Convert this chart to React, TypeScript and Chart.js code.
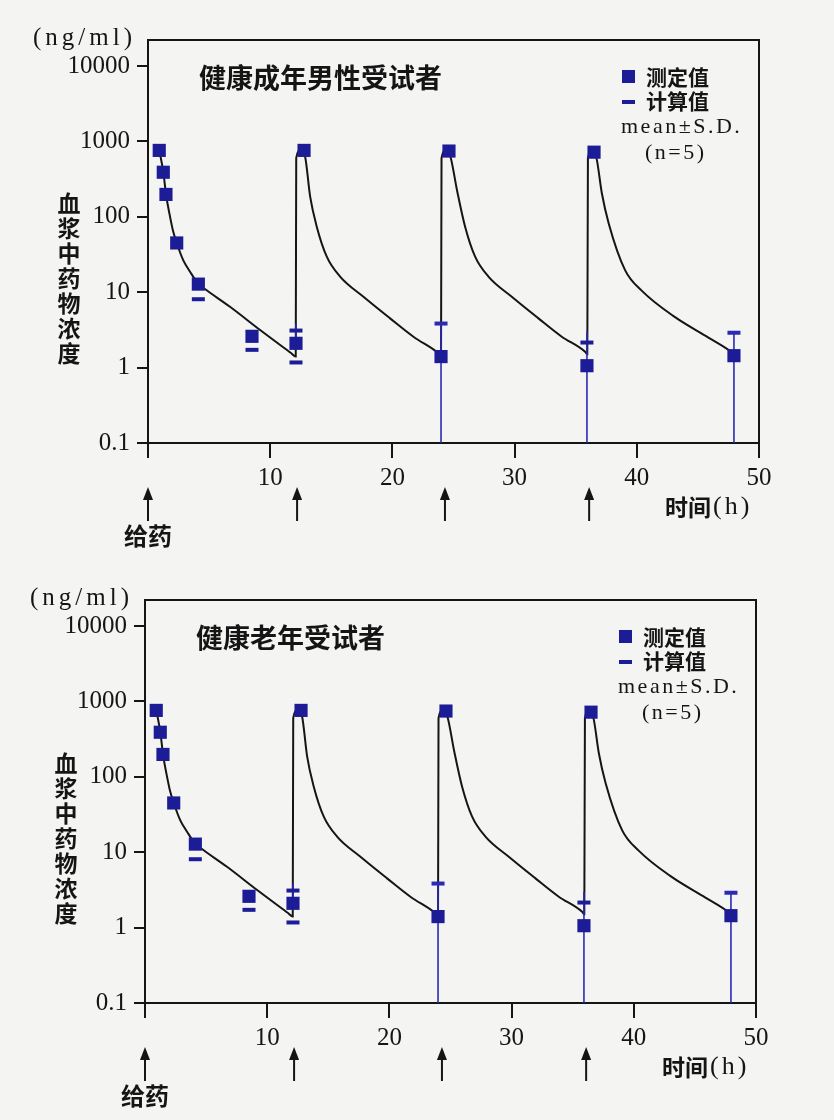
import { useEffect, useRef } from 'react';
import { Chart, registerables } from 'chart.js';

Chart.register(...registerables);

// ---------- data ----------
const panelTitles = ['健康成年男性受试者', '健康老年受试者'];
const yAxisTitle = '血浆中药物浓度';
const yUnit = '(ng/ml)';
const xAxisTitleCjk = '时间';
const xAxisTitleUnit = '(h)';
const doseLabel = '给药';
const legendMeasured = '测定值';
const legendCalc = '计算值';
const legendStat = 'mean±S.D.';
const legendN = '(n=5)';

const yTickValues = [0.1, 1, 10, 100, 1000, 10000];
const yTickLabels = ['0.1', '1', '10', '100', '1000', '10000'];
const xTickValues = [0, 10, 20, 30, 40, 50];
const xTickLabels = ['', '10', '20', '30', '40', '50'];
const doseTimes = [0, 12.2, 24.3, 36.1];

// measured values (squares)
const measuredTime = [0.92, 1.25, 1.47, 2.35, 4.12, 8.51, 12.11, 12.77, 23.98, 24.63, 35.92, 36.5, 47.95];
const measuredConc = [760, 390, 198, 45, 12.8, 2.6, 2.1, 760, 1.4, 745, 1.06, 720, 1.44];

// S.D. bars
const sdTime = [12.11, 23.98, 35.92, 47.95];
const sdLow = [1.9, 0.1, 0.1, 0.1];
const sdHigh = [3.84, 3.84, 3.0, 2.9];
const sdCap = [false, true, false, true];

// calculated values (dashes)
const calcMarkTime = [4.12, 8.51, 12.11, 12.11, 35.92];
const calcMarkConc = [8.07, 1.72, 3.1, 1.17, 2.15];

// fitted curve
const curveTime = [
  0.93, 1.26, 1.48, 1.75, 2.03, 2.36, 2.9, 3.44, 4.12, 4.6, 6.71, 9.23, 11.7, 12.09,
  12.13, 12.5, 12.86, 13.27, 13.81, 14.63, 15.72, 17.63, 19.81, 21.72, 23.63, 23.98,
  24.02, 24.4, 24.75, 25.3, 25.95, 26.77, 27.86, 29.77, 31.95, 33.86, 35.77, 35.95,
  36.0, 36.3, 36.7, 37.14, 37.69, 39.05, 40.4, 43.1, 45.86, 47.76, 47.95,
];
const curveConc = [
  754, 385, 195, 111, 67, 44.6, 26.2, 18.7, 12.9, 11.2, 6.4, 3.1, 1.56, 1.4,
  600, 770, 627, 185, 74, 29.6, 16.1, 8.7, 4.5, 2.57, 1.62, 1.45,
  600, 770, 627, 220, 74, 29.6, 16.1, 8.7, 4.5, 2.57, 1.62, 1.5,
  600, 760, 600, 205, 83, 19.5, 10.5, 4.7, 2.5, 1.6, 1.5,
];

// ---------- styles ----------
const BG = '#f4f4f2';
const INK = '#151515';
const SQUARE = '#1c1c96';
const BAR = '#2a2ab4';
const SERIF = '"Liberation Serif", "DejaVu Serif", serif';
const CJK = '"Noto Sans CJK SC", "Noto Sans CJK JP", sans-serif';

function makeConfig(title: string): any {
  const decor = {
    id: 'decor',
    beforeDraw(chart: any) {
      const { ctx, width, height } = chart;
      ctx.save();
      ctx.fillStyle = BG;
      ctx.fillRect(0, 0, width, height);
      ctx.restore();
    },
    afterDatasetDraw(chart: any, args: any) {
      if (args.index !== 2) return;
      const { ctx } = chart;
      const xs = chart.scales.x;
      const ys = chart.scales.y;
      ctx.save();
      ctx.strokeStyle = BAR;
      ctx.fillStyle = BAR;
      ctx.lineWidth = 1.6;
      sdTime.forEach((t, i) => {
        const px = xs.getPixelForValue(t);
        const yl = ys.getPixelForValue(sdLow[i]);
        const yh = ys.getPixelForValue(sdHigh[i]);
        ctx.beginPath();
        ctx.moveTo(px, yl);
        ctx.lineTo(px, yh);
        ctx.stroke();
        if (sdCap[i]) ctx.fillRect(px - 6.5, yh - 2, 13, 4);
      });
      ctx.restore();
    },
    afterDraw(chart: any) {
      const { ctx, chartArea } = chart;
      const xs = chart.scales.x;
      const { left, top, right, bottom } = chartArea;
      ctx.save();
      // frame
      ctx.strokeStyle = INK;
      ctx.lineWidth = 2;
      ctx.beginPath();
      ctx.moveTo(left - 1, top);
      ctx.lineTo(right, top);
      ctx.lineTo(right, bottom);
      ctx.stroke();

      ctx.fillStyle = INK;
      // unit
      ctx.font = `25px ${SERIF}`;
      (ctx as any).letterSpacing = '4px';
      ctx.textAlign = 'left';
      ctx.textBaseline = 'middle';
      ctx.fillText(yUnit, 33, 38);
      (ctx as any).letterSpacing = '0px';

      // y title, vertical
      ctx.font = `bold 23px ${CJK}`;
      ctx.textAlign = 'center';
      Array.from(yAxisTitle).forEach((ch, i) => {
        ctx.fillText(ch, 69, 203 + i * 25);
      });

      // panel title
      ctx.font = `bold 27px ${CJK}`;
      ctx.textAlign = 'left';
      ctx.fillText(title, 199, 78);

      // legend
      ctx.fillStyle = SQUARE;
      ctx.fillRect(622, 70, 13, 13);
      ctx.fillRect(622, 100, 13, 4);
      ctx.fillStyle = INK;
      ctx.font = `bold 21px ${CJK}`;
      ctx.fillText(legendMeasured, 646, 77);
      ctx.fillText(legendCalc, 646, 101);
      ctx.font = `22px ${SERIF}`;
      ctx.textBaseline = 'alphabetic';
      (ctx as any).letterSpacing = '2.5px';
      ctx.fillText(legendStat, 621, 133);
      ctx.fillText(legendN, 645, 159);
      (ctx as any).letterSpacing = '0px';

      // dose arrows
      ctx.strokeStyle = INK;
      ctx.lineWidth = 2;
      doseTimes.forEach((t) => {
        const px = xs.getPixelForValue(t);
        ctx.beginPath();
        ctx.moveTo(px, 521);
        ctx.lineTo(px, 496);
        ctx.stroke();
        ctx.beginPath();
        ctx.moveTo(px, 487);
        ctx.lineTo(px - 5, 500);
        ctx.lineTo(px + 5, 500);
        ctx.closePath();
        ctx.fill();
      });
      ctx.textBaseline = 'middle';
      ctx.textAlign = 'center';
      ctx.font = `bold 24px ${CJK}`;
      ctx.fillText(doseLabel, 148, 536);

      // x title
      ctx.textAlign = 'left';
      ctx.font = `bold 23px ${CJK}`;
      ctx.fillText(xAxisTitleCjk, 665, 507);
      ctx.font = `26px ${SERIF}`;
      (ctx as any).letterSpacing = '3px';
      ctx.fillText(xAxisTitleUnit, 713, 507);
      (ctx as any).letterSpacing = '0px';
      ctx.restore();
    },
  };

  return {
    type: 'scatter',
    data: {
      datasets: [
        {
          label: legendMeasured,
          data: measuredTime.map((t, i) => ({ x: t, y: measuredConc[i] })),
          pointStyle: 'rect',
          pointRadius: 9.3,
          pointBackgroundColor: SQUARE,
          pointBorderWidth: 0,
          showLine: false,
        },
        {
          label: legendCalc,
          data: calcMarkTime.map((t, i) => ({ x: t, y: calcMarkConc[i] })),
          pointStyle: 'line',
          pointRadius: 6.5,
          pointBorderColor: SQUARE,
          pointBorderWidth: 4,
          showLine: false,
        },
        {
          label: 'curve',
          data: curveTime.map((t, i) => ({ x: t, y: curveConc[i] })),
          showLine: true,
          borderColor: INK,
          borderWidth: 2,
          pointRadius: 0,
          cubicInterpolationMode: 'monotone',
        },
      ],
    },
    options: {
      responsive: false,
      animation: false,
      devicePixelRatio: 1,
      events: [],
      layout: { padding: { left: 0, top: 40, right: 75, bottom: 0 } },
      plugins: { legend: { display: false }, tooltip: { enabled: false }, title: { display: false } },
      scales: {
        x: {
          type: 'linear',
          min: 0,
          max: 50,
          afterBuildTicks: (s: any) => {
            s.ticks = xTickValues.map((v) => ({ value: v }));
          },
          afterFit: (s: any) => {
            s.height = 117;
          },
          ticks: {
            autoSkip: false,
            maxRotation: 0,
            padding: 5,
            color: INK,
            font: { family: SERIF, size: 25 },
            callback: (_v: any, i: number) => xTickLabels[i],
          },
          grid: { drawOnChartArea: false, drawTicks: true, tickLength: 15, color: INK, lineWidth: 2 },
          border: { display: true, color: INK, width: 2 },
        },
        y: {
          type: 'logarithmic',
          min: 0.1,
          max: 22130,
          afterBuildTicks: (s: any) => {
            s.ticks = yTickValues.map((v) => ({ value: v }));
          },
          afterFit: (s: any) => {
            s.width = 148;
          },
          ticks: {
            autoSkip: false,
            padding: 7,
            color: INK,
            font: { family: SERIF, size: 25 },
            callback: (_v: any, i: number) => yTickLabels[i],
          },
          grid: { drawOnChartArea: false, drawTicks: true, tickLength: 11, color: INK, lineWidth: 2 },
          border: { display: true, color: INK, width: 2 },
        },
      },
    },
    plugins: [decor],
  };
}

function Panel({ title, top, left }: { title: string; top: number; left: number }) {
  const ref = useRef<HTMLCanvasElement>(null);
  useEffect(() => {
    const chart = new Chart(ref.current as HTMLCanvasElement, makeConfig(title));
    return () => chart.destroy();
  }, [title]);
  return (
    <canvas
      ref={ref}
      width={834}
      height={560}
      style={{ position: 'absolute', left, top, width: 834, height: 560, display: 'block' }}
    />
  );
}

export default function App() {
  return (
    <div
      style={{
        position: 'absolute',
        left: 0,
        top: 0,
        width: 834,
        height: 1120,
        background: BG,
        overflow: 'hidden',
      }}
    >
      <Panel title={panelTitles[0]} top={0} left={0} />
      <Panel title={panelTitles[1]} top={560} left={-3} />
    </div>
  );
}
